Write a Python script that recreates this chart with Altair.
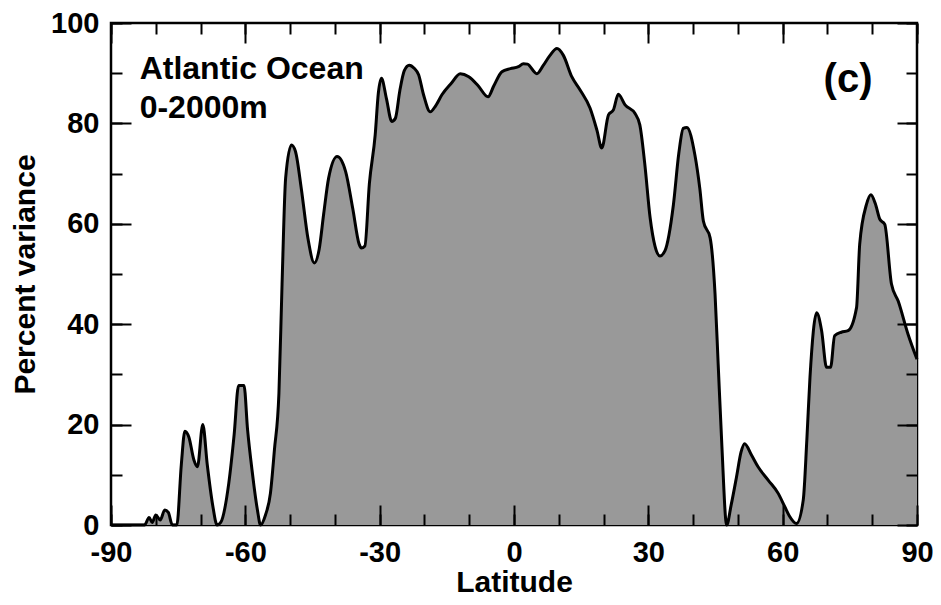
import altair as alt
import pandas as pd

# Latitude (deg) and percent variance
lat = [-90, -84, -82.5, -81.5, -80.8, -80, -79, -78, -77.2, -76.3,
       -75.3, -74.3, -73.5, -72.6, -71.5, -70.7, -69.5, -68.5, -67.3, -66.3,
       -65.5, -63.7, -62.5, -61.5, -60.3, -59.5, -58.5, -57.3, -56.6, -55.5,
       -54.4, -53.5, -52.5, -51.8, -51.0, -49.7, -48.8, -47.5, -46, -44.6,
       -43.5, -42.5, -41.4, -39.5, -37.6, -36, -34.6, -34.1, -33.3, -32.3,
       -31.0, -30.3, -29.6, -28.5, -27.3, -26.5, -25.5, -24.5, -23.4, -22.3,
       -21.3, -20.2, -18.7, -17.5, -16.1, -14, -12.0, -10.1, -8, -5.8,
       -4.5, -2.7, -0.8, 1, 2.1, 3, 5.1, 6.5, 8, 9.6,
       11.0, 12.9, 14.8, 17.0, 18.5, 19.6, 21.1, 22.2, 23.3, 24.8,
       27.0, 28.1, 29.2, 30.4, 31.5, 32.6, 33.7, 35.6, 36.8, 37.8,
       38.6, 40.4, 41.5, 42.3, 43.8, 44.9, 45.6, 46.4, 47.5, 48.5,
       49.7, 50.7, 51.5, 53, 54.5, 56.8, 59.0, 60.5, 61.5, 63.1,
       64.6, 65.4, 66.1, 67.6, 68.7, 69.8, 70.7, 71.6, 73.1, 74.6,
       76.5, 77.2, 78.7, 79.7, 80.7, 81.7, 82.8, 84.3, 85.8, 88.0, 90.0]
pct = [0, 0, 0, 1.5, 0.5, 2, 1, 3, 2.5, 0,
       0, 12, 18.7, 17.5, 13, 11.6, 20, 12, 4, 0,
       0.5, 8.3, 18, 27.8, 27.8, 19, 10.9, 3, 0, 2,
       6.3, 15, 26.2, 48, 69.1, 75.7, 74.4, 67, 57, 52.2,
       55, 62, 69.1, 73.4, 70.4, 63, 56, 55.2, 55.6, 68,
       77.7, 86, 89, 85, 80.4, 81, 86.5, 90.5, 91.6, 91,
       89.7, 85.7, 82.3, 83.5, 85.7, 88, 89.9, 89.3, 87.5, 85.3,
       87.5, 90.3, 90.9, 91.3, 91.9, 91.8, 89.9, 91.5, 93.5, 94.9,
       93.6, 89.3, 86.6, 83.0, 78.7, 75.1, 81.7, 82.7, 85.8, 83.7,
       82.0, 79.7, 72, 61.2, 55.5, 53.6, 54.6, 63.8, 74, 79.0,
       79.2, 73.7, 67, 60.5, 57.2, 46, 32, 16.2, 0, 4,
       9.6, 14.5, 16.2, 14, 11.6, 8.9, 6.3, 3.6, 1.8, 0.3,
       5, 17, 29.4, 42.3, 38.7, 31.4, 31.4, 37.7, 38.4, 38.7,
       43.3, 55.9, 63.8, 65.8, 64, 60.9, 59.9, 48, 44.6, 38.0, 33.0]

note_text = ["Atlantic Ocean", "0-2000m"]
note_lat = [-83.6, -83.6]
note_pct = [88.8, 81.0]
panel_text = ["(c)"]
panel_lat = [74.6]
panel_pct = [86.2]

x_major = [-90, -60, -30, 0, 30, 60, 90]
x_minor = list(range(-90, 91, 10))
y_major = [0, 20, 40, 60, 80, 100]
y_minor = list(range(0, 101, 10))

df = pd.DataFrame({"lat": lat, "pct": pct})
notes = pd.DataFrame({"lat": note_lat, "pct": note_pct, "label": note_text})
panel = pd.DataFrame({"lat": panel_lat, "pct": panel_pct, "label": panel_text})

FONT = "Liberation Sans"
xscale = alt.Scale(domain=[-90, 90], nice=False, zero=False)
yscale = alt.Scale(domain=[0, 100], nice=False, zero=False)

MAJ = 20
MIN = 11


def ax(orient, values, size, labels, title=None, pad=10, tpad=0):
    kw = dict(orient=orient, values=values, tickSize=size, offset=-size,
              domain=False, grid=False, labels=labels, tickColor="black",
              tickWidth=2, zindex=2, title=title)
    if labels:
        kw.update(labelPadding=pad, labelFont=FONT, labelFontSize=29,
                  labelFontWeight="bold", labelColor="black",
                  labelFlush=False, labelOverlap=False,
                  labelExpr="'' + datum.value")
    if title:
        kw.update(titleFont=FONT, titleFontSize=30, titleFontWeight="bold",
                  titleColor="black", titlePadding=tpad)
    return alt.Axis(**kw)


def enc(xa, ya):
    return dict(x=alt.X("lat:Q", scale=xscale, axis=xa),
                y=alt.Y("pct:Q", scale=yscale, axis=ya))


area = alt.Chart(df).mark_area(color="#999999", interpolate="monotone").encode(
    **enc(ax("bottom", x_major, MAJ, True, "Latitude", pad=13, tpad=0),
          ax("left", y_major, MAJ, True, "Percent variance", pad=12, tpad=10)))

line = alt.Chart(df).mark_line(color="black", strokeWidth=3,
                               interpolate="monotone").encode(
    **enc(ax("bottom", x_minor, MIN, False), ax("left", y_minor, MIN, False)))

top_major = alt.Chart(df).mark_line(strokeOpacity=0).encode(
    **enc(ax("top", x_major, MAJ, False), ax("right", y_major, MAJ, False)))

top_minor = alt.Chart(df).mark_line(strokeOpacity=0).encode(
    **enc(ax("top", x_minor, MIN, False), ax("right", y_minor, MIN, False)))

note_layer = alt.Chart(notes).mark_text(
    align="left", baseline="alphabetic", font=FONT, fontSize=32,
    fontWeight="bold", color="black").encode(
    x=alt.X("lat:Q", scale=xscale, axis=None),
    y=alt.Y("pct:Q", scale=yscale, axis=None),
    text="label:N")

panel_layer = alt.Chart(panel).mark_text(
    align="center", baseline="alphabetic", font=FONT, fontSize=40,
    fontWeight="bold", color="black").encode(
    x=alt.X("lat:Q", scale=xscale, axis=None),
    y=alt.Y("pct:Q", scale=yscale, axis=None),
    text="label:N")

chart = alt.layer(area, line, top_major, top_minor, note_layer, panel_layer).resolve_axis(
    x="independent", y="independent"
).properties(
    width=806, height=502,
    padding={"left": 103, "top": 15, "right": 16, "bottom": 72},
    autosize=alt.AutoSizeParams(type="none"),
    background="white",
).configure_view(stroke="black", strokeWidth=2.5)

chart.save("out.html", embed_options={"renderer": "svg", "actions": False})
